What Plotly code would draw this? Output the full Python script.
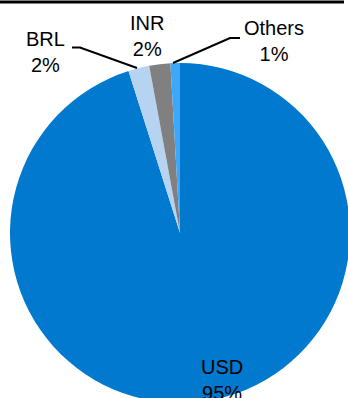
import plotly.graph_objects as go

# Data
currencies = ["USD", "BRL", "INR", "Others"]
shares = [95.1, 2.0, 2.0, 0.9]
colors = ["#0079CF", "#B6D3F2", "#808080", "#3DA8F7"]

# Figure geometry (pixels)
W, H = 352, 404
ML, MR, MT, MB = 10, 2, 63, 1
PW = W - ML - MR
PH = H - MT - MB


def px(x):
    return (x - ML) / PW


def py(y):
    return (H - MB - y) / PH


fig = go.Figure(go.Pie(
    labels=currencies,
    values=shares,
    sort=False,
    direction="clockwise",
    rotation=0,
    marker=dict(colors=colors, line=dict(width=0)),
    textinfo="none",
    hoverinfo="none",
    showlegend=False,
    domain=dict(x=[0, 1], y=[0, 1]),
))

# Label positions (pixel centers)
label_pos = {
    "USD": (222, 380),
    "BRL": (45, 52),
    "INR": (147, 36),
    "Others": (274, 41),
}
annotations = []
for c, v in zip(currencies, shares):
    x, y = label_pos[c]
    annotations.append(dict(
        x=px(x), y=py(y), xref="paper", yref="paper",
        text=f"{c}<br>{round(v)}%", showarrow=False,
        xanchor="center", yanchor="middle",
        font=dict(family="Liberation Sans, Arial", size=20, color="#000000"),
    ))

shapes = [
    # top rule
    dict(type="line", xref="paper", yref="paper",
         x0=px(0), x1=px(344), y0=py(2), y1=py(2),
         line=dict(color="#000000", width=3)),
    # BRL leader
    dict(type="path", xref="paper", yref="paper",
         path=f"M {px(72)} {py(47.5)} L {px(80)} {py(47.5)} L {px(137)} {py(68)}",
         line=dict(color="#000000", width=2)),
    # Others leader
    dict(type="path", xref="paper", yref="paper",
         path=f"M {px(173)} {py(63)} L {px(230)} {py(38)} L {px(240)} {py(38)}",
         line=dict(color="#000000", width=2)),
]

fig.update_layout(
    width=W, height=H,
    margin=dict(l=ML, r=MR, t=MT, b=MB, pad=0),
    paper_bgcolor="#FFFFFF",
    plot_bgcolor="#FFFFFF",
    annotations=annotations,
    shapes=shapes,
)

fig.write_html(
    "out.html",
    config={"displayModeBar": False},
    post_script="document.documentElement.style.overflow='hidden';document.body.style.overflow='hidden';document.body.style.margin='0';",
)
